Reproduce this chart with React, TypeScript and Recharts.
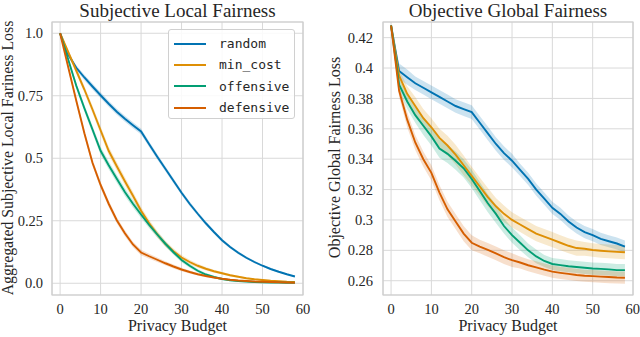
import React from 'react';
import { ComposedChart, Line, Area, XAxis, YAxis, CartesianGrid, ReferenceArea, Legend } from 'recharts';

const budgets = [0, 2, 4, 6, 8, 10, 12, 14, 16, 18, 20, 22, 24, 26, 28, 30, 32, 34, 36, 38, 40, 42, 44, 46, 48, 50, 52, 54, 56, 58];
const xTicks = [0, 10, 20, 30, 40, 50, 60];
const seriesNames = ['random', 'min_cost', 'offensive', 'defensive'];
const seriesColors = ['#0173b2', '#de8f05', '#029e73', '#d55e00'];

// Subjective Local Fairness (left)
const randomLocal = [1.0, 0.915, 0.862, 0.823, 0.787, 0.752, 0.718, 0.686, 0.658, 0.632, 0.607, 0.556, 0.506, 0.458, 0.41, 0.362, 0.318, 0.278, 0.24, 0.205, 0.172, 0.145, 0.122, 0.102, 0.085, 0.07, 0.057, 0.046, 0.036, 0.027];
const minCostLocal = [1.0, 0.925, 0.85, 0.775, 0.695, 0.612, 0.53, 0.468, 0.408, 0.35, 0.29, 0.24, 0.196, 0.158, 0.128, 0.103, 0.085, 0.07, 0.058, 0.048, 0.04, 0.032, 0.026, 0.02, 0.016, 0.013, 0.01, 0.008, 0.006, 0.005];
const offensiveLocal = [1.0, 0.895, 0.79, 0.7, 0.615, 0.53, 0.472, 0.418, 0.365, 0.318, 0.275, 0.233, 0.195, 0.158, 0.124, 0.093, 0.07, 0.05, 0.035, 0.025, 0.017, 0.012, 0.009, 0.007, 0.005, 0.004, 0.003, 0.003, 0.002, 0.002];
const defensiveLocal = [1.0, 0.865, 0.73, 0.6, 0.482, 0.393, 0.318, 0.252, 0.2, 0.155, 0.123, 0.108, 0.094, 0.08, 0.067, 0.055, 0.045, 0.036, 0.029, 0.023, 0.018, 0.014, 0.011, 0.009, 0.007, 0.006, 0.005, 0.004, 0.003, 0.002];

const randomLocalErr = [0, 0.008, 0.01, 0.011, 0.012, 0.012, 0.012, 0.012, 0.012, 0.012, 0.012, 0.011, 0.011, 0.01, 0.01, 0.009, 0.009, 0.008, 0.008, 0.007, 0.007, 0.006, 0.006, 0.005, 0.005, 0.004, 0.004, 0.004, 0.003, 0.003];
const minCostLocalErr = [0, 0.01, 0.012, 0.014, 0.015, 0.016, 0.017, 0.017, 0.017, 0.016, 0.015, 0.014, 0.013, 0.012, 0.011, 0.01, 0.009, 0.008, 0.007, 0.006, 0.005, 0.005, 0.004, 0.004, 0.003, 0.003, 0.003, 0.002, 0.002, 0.002];
const offensiveLocalErr = [0, 0.01, 0.012, 0.014, 0.015, 0.016, 0.016, 0.016, 0.016, 0.015, 0.014, 0.013, 0.012, 0.011, 0.01, 0.009, 0.008, 0.007, 0.006, 0.005, 0.004, 0.004, 0.003, 0.003, 0.003, 0.002, 0.002, 0.002, 0.002, 0.002];
const defensiveLocalErr = [0, 0.01, 0.012, 0.013, 0.013, 0.013, 0.013, 0.012, 0.012, 0.011, 0.011, 0.01, 0.009, 0.008, 0.008, 0.007, 0.006, 0.005, 0.005, 0.004, 0.004, 0.003, 0.003, 0.003, 0.002, 0.002, 0.002, 0.002, 0.002, 0.002];

// Objective Global Fairness (right)
const randomGlobal = [0.428, 0.398, 0.394, 0.39, 0.387, 0.384, 0.381, 0.378, 0.375, 0.373, 0.371, 0.364, 0.357, 0.35, 0.344, 0.339, 0.333, 0.327, 0.32, 0.314, 0.308, 0.304, 0.299, 0.295, 0.292, 0.29, 0.2875, 0.286, 0.2845, 0.2825];
const minCostGlobal = [0.428, 0.395, 0.383, 0.375, 0.367, 0.361, 0.354, 0.349, 0.343, 0.336, 0.329, 0.322, 0.315, 0.309, 0.304, 0.3, 0.297, 0.294, 0.291, 0.289, 0.287, 0.285, 0.283, 0.2815, 0.281, 0.2802, 0.2797, 0.2793, 0.279, 0.2787];
const offensiveGlobal = [0.428, 0.389, 0.378, 0.369, 0.362, 0.355, 0.347, 0.3435, 0.339, 0.334, 0.327, 0.319, 0.311, 0.304, 0.296, 0.29, 0.285, 0.28, 0.276, 0.273, 0.271, 0.2703, 0.2695, 0.269, 0.2685, 0.268, 0.2678, 0.2675, 0.267, 0.267];
const defensiveGlobal = [0.428, 0.385, 0.366, 0.351, 0.34, 0.331, 0.318, 0.307, 0.299, 0.291, 0.285, 0.2825, 0.2803, 0.278, 0.2755, 0.2735, 0.272, 0.2702, 0.2688, 0.2673, 0.266, 0.2652, 0.2645, 0.2638, 0.2633, 0.263, 0.2627, 0.2624, 0.2621, 0.262];

const randomGlobalErr = [0, 0.005, 0.005, 0.0045, 0.0045, 0.0045, 0.0045, 0.0045, 0.0045, 0.0045, 0.0045, 0.0045, 0.0045, 0.0045, 0.0045, 0.0045, 0.004, 0.004, 0.004, 0.004, 0.004, 0.004, 0.004, 0.004, 0.004, 0.004, 0.004, 0.004, 0.004, 0.004];
const minCostGlobalErr = [0, 0.004, 0.005, 0.006, 0.006, 0.006, 0.006, 0.0065, 0.0065, 0.0065, 0.006, 0.006, 0.006, 0.0055, 0.0055, 0.005, 0.005, 0.005, 0.005, 0.005, 0.005, 0.005, 0.005, 0.005, 0.0045, 0.0045, 0.0045, 0.0045, 0.0045, 0.0045];
const offensiveGlobalErr = [0, 0.004, 0.005, 0.005, 0.006, 0.006, 0.006, 0.006, 0.006, 0.006, 0.006, 0.006, 0.006, 0.006, 0.005, 0.005, 0.005, 0.0045, 0.0045, 0.004, 0.004, 0.004, 0.004, 0.004, 0.004, 0.004, 0.004, 0.004, 0.004, 0.004];
const defensiveGlobalErr = [0, 0.004, 0.005, 0.005, 0.005, 0.005, 0.005, 0.005, 0.005, 0.005, 0.005, 0.0045, 0.0045, 0.0045, 0.0045, 0.0045, 0.004, 0.004, 0.004, 0.004, 0.004, 0.004, 0.004, 0.004, 0.004, 0.004, 0.004, 0.004, 0.004, 0.004];

const localTicks = [0, 0.25, 0.5, 0.75, 1.0];
const localTickLabels = ['0.0', '0.25', '0.5', '0.75', '1.0'];
const globalTicks = [0.26, 0.28, 0.3, 0.32, 0.34, 0.36, 0.38, 0.4, 0.42];
const globalTickLabels = ['0.26', '0.28', '0.3', '0.32', '0.34', '0.36', '0.38', '0.4', '0.42'];

function buildRows(values: number[][], errs: number[][]) {
  return budgets.map((b, i) => {
    const row: any = { budget: b };
    seriesNames.forEach((n, k) => {
      row[n] = values[k][i];
      row[n + '_band'] = [values[k][i] - errs[k][i], values[k][i] + errs[k][i]];
    });
    return row;
  });
}

const localRows = buildRows(
  [randomLocal, minCostLocal, offensiveLocal, defensiveLocal],
  [randomLocalErr, minCostLocalErr, offensiveLocalErr, defensiveLocalErr]
);
const globalRows = buildRows(
  [randomGlobal, minCostGlobal, offensiveGlobal, defensiveGlobal],
  [randomGlobalErr, minCostGlobalErr, offensiveGlobalErr, defensiveGlobalErr]
);

const SERIF = '"Liberation Serif", "DejaVu Serif", serif';
const MONO = '"DejaVu Sans Mono", monospace';
const INK = '#262626';

const LegendBox = () => (
  <div
    style={{
      width: 127,
      height: 90,
      border: '1px solid #d0d0d0',
      borderRadius: 3,
      background: 'rgba(255,255,255,0.85)',
      boxSizing: 'border-box',
      paddingTop: 3,
    }}
  >
    {seriesNames.map((n, k) => (
      <div key={n} style={{ display: 'flex', alignItems: 'center', height: 21.3 }}>
        <div style={{ marginLeft: 5, width: 32, height: 2, background: seriesColors[k] }} />
        <span style={{ marginLeft: 13, fontFamily: MONO, fontSize: 13, color: INK }}>{n}</span>
      </div>
    ))}
  </div>
);

type PanelProps = {
  rows: any[];
  yDomain: [number, number];
  yTicks: number[];
  yLabels: string[];
  yAxisWidth: number;
  marginRight: number;
  tickMargin: number;
  legend?: boolean;
};

function Panel({ rows, yDomain, yTicks, yLabels, yAxisWidth, marginRight, tickMargin, legend }: PanelProps) {
  const tickStyle = { fill: INK, fontSize: 14.5, fontFamily: SERIF };
  return (
    <ComposedChart width={320} height={337} data={rows} margin={{ top: 22, right: marginRight, bottom: 12, left: 0 }}>
      <CartesianGrid stroke="#d9d9d9" strokeWidth={1} />
      <XAxis
        dataKey="budget"
        type="number"
        domain={[-2, 60]}
        ticks={xTicks}
        allowDataOverflow
        tickLine={false}
        axisLine={false}
        tick={tickStyle}
        tickMargin={3}
        height={30}
      />
      <YAxis
        type="number"
        domain={yDomain}
        ticks={yTicks}
        allowDataOverflow
        tickFormatter={(v: number) => yLabels[yTicks.indexOf(v)] ?? String(v)}
        width={yAxisWidth}
        tickLine={false}
        axisLine={false}
        tick={tickStyle}
        tickMargin={tickMargin}
      />
      <ReferenceArea
        x1={-2}
        x2={60}
        y1={yDomain[0]}
        y2={yDomain[1]}
        fill="none"
        stroke="#cccccc"
        strokeWidth={1.2}
        ifOverflow="visible"
      />
      {seriesNames.map((n, k) => (
        <Area
          key={n + '_band'}
          dataKey={n + '_band'}
          type="linear"
          stroke="none"
          fill={seriesColors[k]}
          fillOpacity={0.2}
          isAnimationActive={false}
          legendType="none"
          activeDot={false}
        />
      ))}
      {seriesNames.map((n, k) => (
        <Line
          key={n}
          dataKey={n}
          name={n}
          type="linear"
          stroke={seriesColors[k]}
          strokeWidth={1.9}
          dot={false}
          activeDot={false}
          isAnimationActive={false}
        />
      ))}
      {legend ? (
        <Legend
          layout="vertical"
          align="center"
          verticalAlign="middle"
          wrapperStyle={{ position: 'absolute', top: 29, left: 168, width: 127, height: 90 }}
          content={() => <LegendBox />}
        />
      ) : null}
    </ComposedChart>
  );
}

export default function App() {
  return (
    <div style={{ position: 'absolute', left: 0, top: 0, width: 640, height: 337, background: '#fff' }}>
      <div style={{ position: 'absolute', left: 0, top: 0 }}>
        <Panel
          rows={localRows}
          yDomain={[-0.047, 1.045]}
          yTicks={localTicks}
          yLabels={localTickLabels}
          yAxisWidth={52}
          marginRight={17}
          tickMargin={3}
          legend
        />
      </div>
      <div style={{ position: 'absolute', left: 320, top: 0 }}>
        <Panel
          rows={globalRows}
          yDomain={[0.2506, 0.4303]}
          yTicks={globalTicks}
          yLabels={globalTickLabels}
          yAxisWidth={63}
          marginRight={7}
          tickMargin={4}
        />
      </div>
      <svg width={640} height={337} style={{ position: 'absolute', left: 0, top: 0, pointerEvents: 'none' }}>
        <text x={177.5} y={17} textAnchor="middle" fontFamily={SERIF} fontSize={19} fill={INK}>
          Subjective Local Fairness
        </text>
        <text x={508} y={17} textAnchor="middle" fontFamily={SERIF} fontSize={19} fill={INK}>
          Objective Global Fairness
        </text>
        <text x={177.5} y={331} textAnchor="middle" fontFamily={SERIF} fontSize={16} fill={INK}>
          Privacy Budget
        </text>
        <text x={508} y={331} textAnchor="middle" fontFamily={SERIF} fontSize={16} fill={INK}>
          Privacy Budget
        </text>
        <text x={12.5} y={158} textAnchor="middle" fontFamily={SERIF} fontSize={15.8} fill={INK} transform="rotate(-90 12.5 158)">
          Aggregated Subjective Local Fariness Loss
        </text>
        <text x={340} y={157.5} textAnchor="middle" fontFamily={SERIF} fontSize={16} fill={INK} transform="rotate(-90 340 157.5)">
          Objective Global Fairness Loss
        </text>
      </svg>
    </div>
  );
}
